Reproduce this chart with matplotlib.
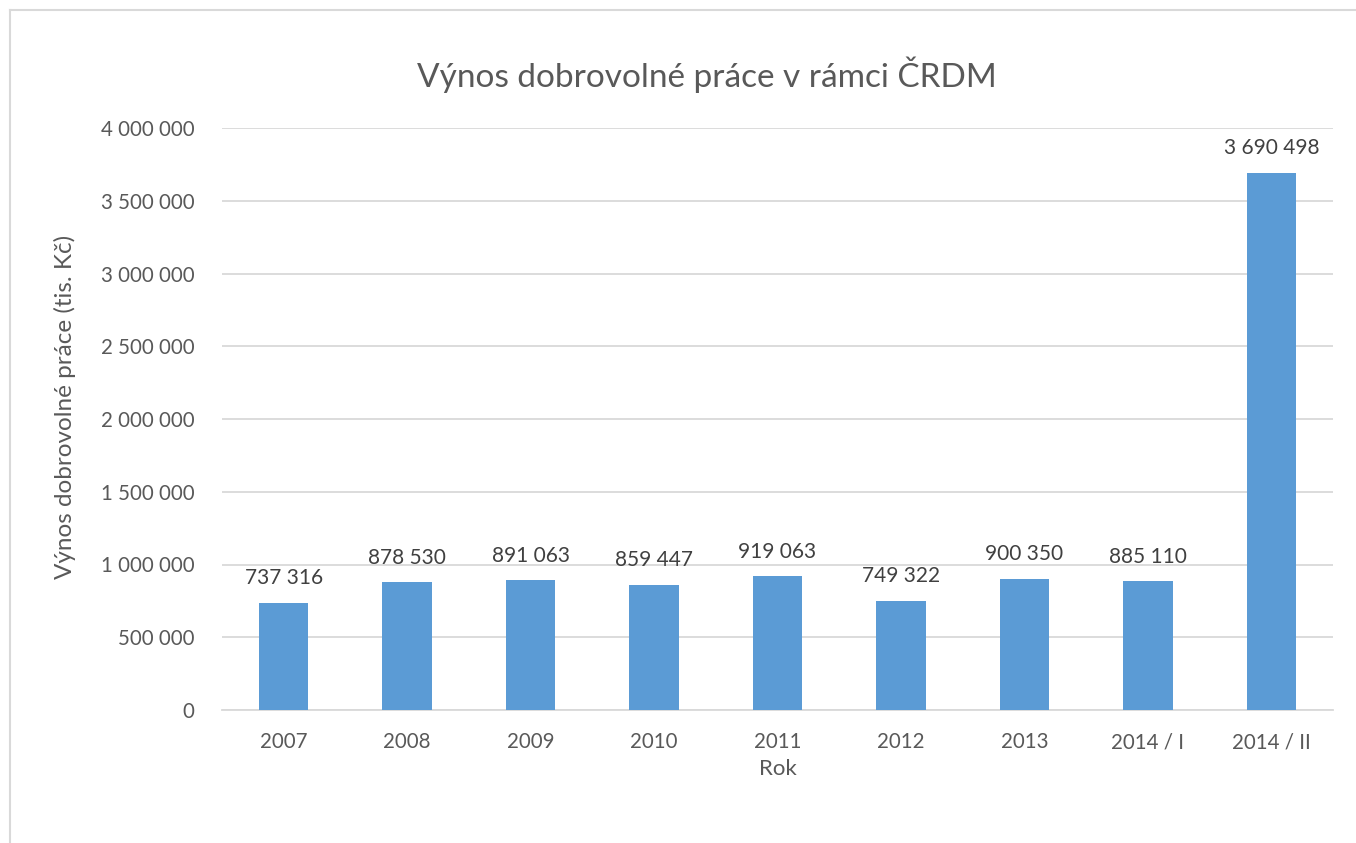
import matplotlib.pyplot as plt
from matplotlib.lines import Line2D

# data
roky = ['2007', '2008', '2009', '2010', '2011', '2012', '2013', '2014 / I', '2014 / II']
vynos = [737316, 878530, 891063, 859447, 919063, 749322, 900350, 885110, 3690498]
yticks = [0, 500000, 1000000, 1500000, 2000000, 2500000, 3000000, 3500000, 4000000]


def fmt(v):
    return f'{v:,}'.replace(',', ' ')


plt.rcParams['font.family'] = ['Lato', 'DejaVu Sans']
seda = '#595959'

fig = plt.figure(figsize=(13.56, 8.43), dpi=100)
ax = fig.add_axes([222 / 1356, 1 - 710 / 843, (1333 - 222) / 1356, (710 - 128) / 843])

x = range(len(roky))
bars = ax.bar(x, vynos, width=0.4, color='#5B9BD5', zorder=3)

for i, v in enumerate(vynos):
    ax.text(i, v + 100000, fmt(v), ha='center', va='bottom', fontsize=15, color='#404040')

ax.set_xlim(-0.5, len(roky) - 0.5)
ax.set_ylim(0, 4000000)
ax.set_yticks(yticks)
ax.set_yticklabels([fmt(t) for t in yticks])
ax.set_xticks(list(x))
ax.set_xticklabels(roky)
ax.tick_params(axis='both', length=0, labelsize=14.8, labelcolor=seda)
ax.tick_params(axis='y', pad=20)
ax.tick_params(axis='x', pad=16)
ax.grid(axis='y', color='#D9D9D9', linewidth=1.3, zorder=0)
for s in ['top', 'right', 'left']:
    ax.spines[s].set_visible(False)
ax.spines['bottom'].set_color('#D9D9D9')
ax.spines['bottom'].set_linewidth(1.3)

ax.set_xlabel('Rok', fontsize=16, color=seda, labelpad=5)
ax.set_ylabel('Výnos dobrovolné práce (tis. Kč)', fontsize=17.5, color=seda)
ax.yaxis.set_label_coords(-0.131, 0.52)
fig.text(707 / 1356, 1 - 75 / 843, 'Výnos dobrovolné práce v rámci ČRDM', ha='center', va='center',
         fontsize=24, color=seda)

# ramecek grafu
fig.add_artist(Line2D([10 / 1356, 10 / 1356], [0, 1 - 10 / 843], transform=fig.transFigure,
                      color='#D9D9D9', linewidth=1.5))
fig.add_artist(Line2D([10 / 1356, 1], [1 - 10 / 843, 1 - 10 / 843], transform=fig.transFigure,
                      color='#D9D9D9', linewidth=1.5))

fig.savefig('out.png', dpi=100)
